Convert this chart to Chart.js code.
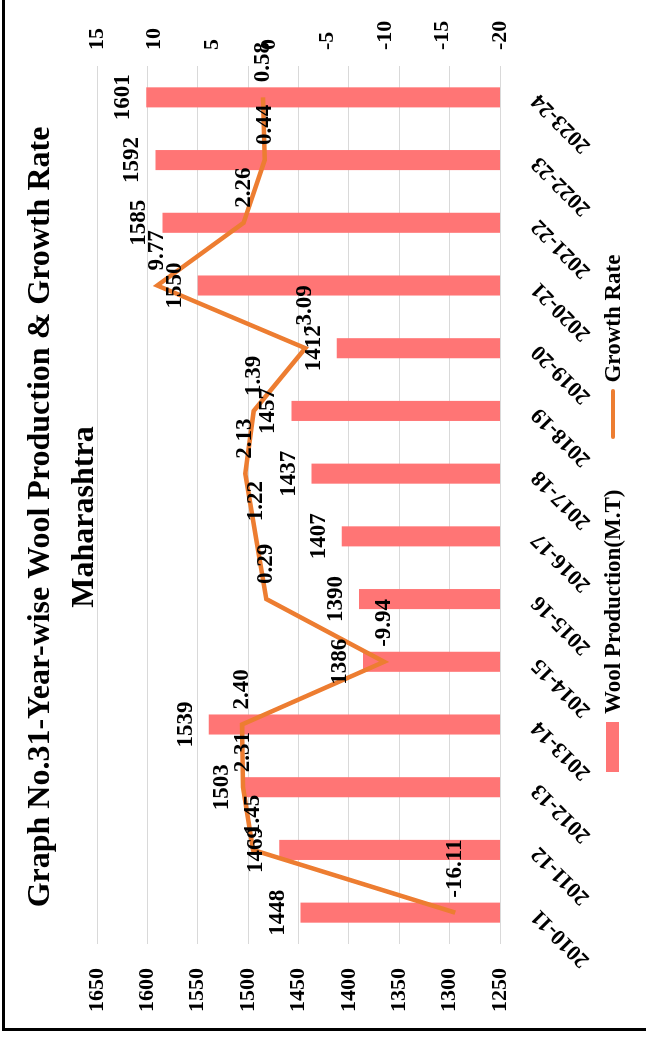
<!DOCTYPE html>
<html>
<head>
<meta charset="utf-8">
<script src="https://cdn.jsdelivr.net/npm/chart.js@4"></script>
<style>
    html, body { margin: 0; padding: 0; background: #fff; overflow: hidden; }
    #pagina { position: relative; width: 646px; height: 1038px; overflow: hidden; }
    /* el gráfico se dibuja horizontal y luego se gira 90° a la izquierda */
    #girado {
        position: absolute; left: 0; top: 0; width: 1038px; height: 646px;
        transform-origin: 0 0; transform: translateY(1038px) rotate(-90deg);
    }
    #marco { position: absolute; left: 7px; top: 2px; width: 1300px; height: 900px; border: 3px solid #000; }
    #grafico { position: absolute; left: 0; top: 0; }
    #leyenda {
        position: absolute; left: 266px; top: 596px; height: 33px;
        display: flex; align-items: center; white-space: nowrap;
        font: bold 23px "Liberation Serif", "Times New Roman", serif; color: #000;
    }
    #leyenda .caja { width: 50px; height: 13px; background: #ff7575; margin-right: 8px; }
    #leyenda .linea { width: 50px; height: 4px; border-radius: 2px; background: #ed7d31; margin: 0 6px 0 51px; }
</style>
</head>
<body>
<div id="pagina">
    <div id="girado">
        <div id="marco"></div>
        <canvas id="grafico" width="1038" height="646"></canvas>
        <div id="leyenda">
            <span class="caja"></span><span>Wool Production(M.T)</span>
            <span class="linea"></span><span>Growth Rate</span>
        </div>
    </div>
</div>
<script>
// Datos
const categorias = ['2010-11', '2011-12', '2012-13', '2013-14', '2014-15', '2015-16', '2016-17',
    '2017-18', '2018-19', '2019-20', '2020-21', '2021-22', '2022-23', '2023-24'];
const produccion = [1448, 1469, 1503, 1539, 1386, 1390, 1407, 1437, 1457, 1412, 1550, 1585, 1592, 1601];
const crecimiento = [-16.11, 1.45, 2.31, 2.40, -9.94, 0.29, 1.22, 2.13, 1.39, -3.09, 9.77, 2.26, 0.44, 0.58];
const ejeProduccion = [1250, 1650, 50];   // min, max, paso
const ejeCrecimiento = [-20, 15, 5];

const fuente = '"Liberation Serif", "Times New Roman", serif';

// Etiquetas de datos (sin plugin externo)
const etiquetas = {
    id: 'etiquetas',
    afterDatasetsDraw(chart) {
        const ctx = chart.ctx;
        ctx.save();
        ctx.font = 'bold 23px ' + fuente;
        ctx.fillStyle = '#000';
        ctx.textAlign = 'center';
        ctx.textBaseline = 'alphabetic';
        chart.getDatasetMeta(0).data.forEach((barra, i) => {
            ctx.fillText(produccion[i], barra.x, barra.y - 17);
        });
        ctx.textAlign = 'left';
        ctx.textBaseline = 'middle';
        chart.getDatasetMeta(1).data.forEach((punto, i) => {
            ctx.fillText(crecimiento[i].toFixed(2), punto.x + 15, punto.y);
        });
        ctx.restore();
    }
};

const fuenteEje = { family: fuente, size: 22, weight: 'bold' };

new Chart(document.getElementById('grafico'), {
    type: 'bar',
    data: {
        labels: categorias,
        datasets: [{
            label: 'Wool Production(M.T)',
            data: produccion,
            backgroundColor: '#ff7575',
            barPercentage: 0.32,
            categoryPercentage: 1,
            order: 1,
            yAxisID: 'y'
        }, {
            type: 'line',
            label: 'Growth Rate',
            data: crecimiento,
            borderColor: '#ed7d31',
            backgroundColor: '#ed7d31',
            borderWidth: 4.5,
            pointRadius: 0,
            tension: 0,
            order: 0,
            yAxisID: 'y1'
        }]
    },
    options: {
        responsive: false,
        animation: false,
        layout: { padding: { left: 8, right: 4, top: 0, bottom: 46 } },
        plugins: {
            title: {
                display: true,
                text: ['Graph No.31-Year-wise Wool Production & Growth Rate', 'Maharashtra'],
                color: '#000',
                font: { family: fuente, size: 32, weight: 'bold', lineHeight: 1.4 },
                padding: { top: 18, bottom: -10.6 }
            },
            legend: { display: false },
            tooltip: { enabled: false }
        },
        scales: {
            x: {
                grid: { display: false },
                border: { display: false },
                ticks: { color: '#000', font: fuenteEje, maxRotation: 45, minRotation: 45, padding: 18 },
                afterFit(s) { s.height = 100; }
            },
            y: {
                position: 'left',
                min: ejeProduccion[0],
                max: ejeProduccion[1],
                ticks: { stepSize: ejeProduccion[2], color: '#000', font: fuenteEje, padding: 24, callback: v => String(v) },
                grid: { color: '#d9d9d9', drawTicks: false },
                border: { display: false },
                afterFit(s) { s.width = 86; }
            },
            y1: {
                position: 'right',
                min: ejeCrecimiento[0],
                max: ejeCrecimiento[1],
                ticks: { stepSize: ejeCrecimiento[2], color: '#000', font: fuenteEje, padding: 16, callback: v => String(v) },
                grid: { display: false, drawTicks: false },
                border: { display: false },
                afterFit(s) { s.width = 62; }
            }
        }
    },
    plugins: [etiquetas]
});
</script>
</body>
</html>
